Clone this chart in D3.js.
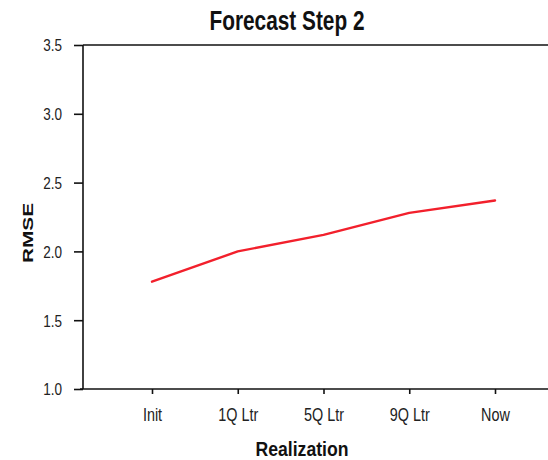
<!DOCTYPE html>
<html>
<head>
<meta charset="utf-8">
<script src="https://cdn.jsdelivr.net/npm/d3@7"></script>
<style>
  html, body { margin: 0; padding: 0; background: #fff; }
  svg { display: block; }
</style>
</head>
<body>
<svg id="chart" width="548" height="460"></svg>
<script>
// Realization categories along the x axis
const categories = ["Init", "1Q Ltr", "5Q Ltr", "9Q Ltr", "Now"];
// RMSE for forecast step 2 at each realization
const rmseValues = [1.78, 2.00, 2.12, 2.28, 2.37];
// Y axis ticks
const yTicks = [1.0, 1.5, 2.0, 2.5, 3.0, 3.5];

const svg = d3.select("#chart");
const plotLeft = 83, plotTop = 45, plotBottom = 389, plotRight = 560;

const x = d3.scalePoint().domain(categories).range([152, 495]);
const y = d3.scaleLinear().domain([1.0, 3.5]).range([plotBottom, plotTop]);

const font = "'Liberation Sans', Arial, sans-serif";

// frame: top border and the two axes
svg.append("line").attr("x1", plotLeft).attr("x2", plotRight).attr("y1", plotTop).attr("y2", plotTop)
  .attr("stroke", "#111").attr("stroke-width", 1.6);

const yAxis = svg.append("g").attr("transform", `translate(${plotLeft},0)`)
  .call(d3.axisLeft(y).tickValues(yTicks).tickFormat(d3.format(".1f")).tickSize(9).tickPadding(12));
const xAxis = svg.append("g").attr("transform", `translate(0,${plotBottom})`)
  .call(d3.axisBottom(x).tickSize(5).tickPadding(14));

[yAxis, xAxis].forEach(g => {
  g.select(".domain").remove();
  g.selectAll(".tick line").attr("stroke", "#111").attr("stroke-width", 1.6);
  g.selectAll(".tick text").attr("fill", "#222").attr("font-family", font);
});
xAxis.selectAll(".tick text").attr("font-size", 18).attr("transform", "scale(0.8,1)");
yAxis.selectAll(".tick text").attr("font-size", 16.5).attr("dy", "0.36em")
  .attr("transform", "scale(0.82,1)").attr("x", -21 / 0.82);

svg.append("line").attr("x1", plotLeft).attr("x2", plotLeft).attr("y1", plotTop).attr("y2", plotBottom)
  .attr("stroke", "#111").attr("stroke-width", 1.6);
svg.append("line").attr("x1", plotLeft - 3).attr("x2", plotRight).attr("y1", plotBottom).attr("y2", plotBottom)
  .attr("stroke", "#111").attr("stroke-width", 1.6);

// RMSE line
const line = d3.line().x((d, i) => x(categories[i])).y(d => y(d));
svg.append("path").datum(rmseValues).attr("d", line)
  .attr("fill", "none").attr("stroke", "#f2202c").attr("stroke-width", 2.4)
  .attr("stroke-linejoin", "round").attr("stroke-linecap", "round");

// titles
svg.append("text").attr("x", 287).attr("y", 30).attr("text-anchor", "middle")
  .attr("font-family", font).attr("font-weight", "bold").attr("font-size", 28)
  .attr("textLength", 155).attr("lengthAdjust", "spacingAndGlyphs").attr("fill", "#111")
  .text("Forecast Step 2");

svg.append("text").attr("x", 302).attr("y", 456).attr("text-anchor", "middle")
  .attr("font-family", font).attr("font-weight", "bold").attr("font-size", 21)
  .attr("textLength", 93).attr("lengthAdjust", "spacingAndGlyphs").attr("fill", "#111")
  .text("Realization");

svg.append("text").attr("transform", "translate(33,233) rotate(-90)").attr("text-anchor", "middle")
  .attr("font-family", font).attr("font-weight", "bold").attr("font-size", 15)
  .attr("textLength", 60).attr("lengthAdjust", "spacingAndGlyphs").attr("fill", "#111")
  .text("RMSE");
</script>
</body>
</html>
